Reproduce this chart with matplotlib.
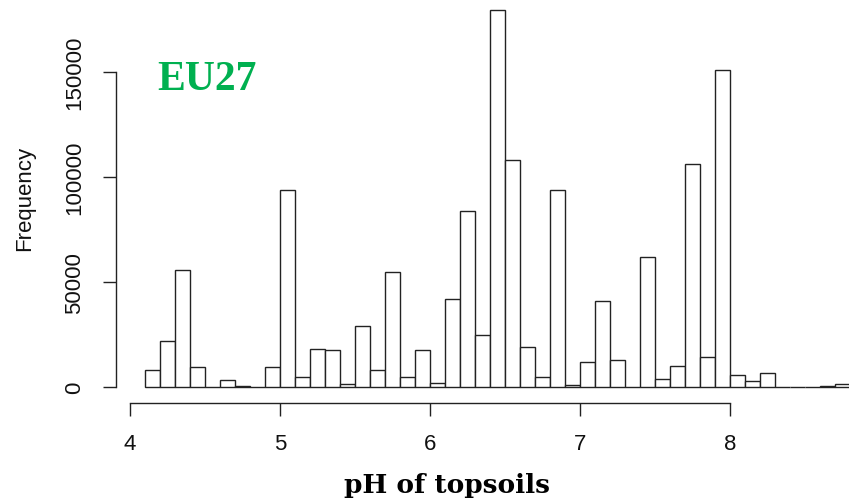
import matplotlib
matplotlib.use('Agg')
from matplotlib import pyplot as plt

# histogram of topsoil pH, bins of 0.1 starting at 4.1
bin_left = [4.1, 4.2, 4.3, 4.4, 4.5, 4.6, 4.7, 4.8, 4.9,
            5.0, 5.1, 5.2, 5.3, 5.4, 5.5, 5.6, 5.7, 5.8, 5.9,
            6.0, 6.1, 6.2, 6.3, 6.4, 6.5, 6.6, 6.7, 6.8, 6.9,
            7.0, 7.1, 7.2, 7.3, 7.4, 7.5, 7.6, 7.7, 7.8, 7.9,
            8.0, 8.1, 8.2, 8.3, 8.4, 8.5, 8.6, 8.7]
counts = [8100, 21750, 55900, 9400, 0, 3300, 500, 0, 9400,
          93800, 4600, 18250, 17600, 1400, 28900, 8100, 54600, 4600, 17600,
          2000, 41750, 83800, 24900, 179700, 107900, 18900, 4600, 93800, 1100,
          12100, 41100, 12900, 0, 62100, 4000, 10000, 106000, 14100, 151100,
          5900, 2700, 6800, 0, 0, 0, 400, 1400]
x_ticks = [4, 5, 6, 7, 8]
y_ticks = [0, 50000, 100000, 150000]

W, H = 849, 502
fig = plt.figure(figsize=(W / 100, H / 100), dpi=100)
ax = fig.add_axes([116 / W, (H - 404) / H, 1 - 116 / W, 404 / H])

ax.bar(bin_left, counts, width=0.1, align='edge', color='white',
       edgecolor='#222222', linewidth=1.0)

ax.set_xlim(4 - 14 / 150, 4 + (849 - 130) / 150)
ax.set_ylim(-16 * 476.19, 388 * 476.19)

for s in ['top', 'right']:
    ax.spines[s].set_visible(False)
ax.spines['left'].set_bounds(0, 150000)
ax.spines['bottom'].set_bounds(4, 8)
for s in ['left', 'bottom']:
    ax.spines[s].set_linewidth(1.0)
    ax.spines[s].set_color('#222222')

ax.set_xticks(x_ticks)
ax.set_xticklabels([str(v) for v in x_ticks])
ax.set_yticks(y_ticks)
ax.set_yticklabels([str(v) for v in y_ticks])
ax.tick_params(axis='both', length=9.4, width=1.0, color='#222222',
               labelsize=16, labelcolor='#111111')
ax.tick_params(axis='x', pad=12)
ax.tick_params(axis='y', pad=13, labelrotation=90)
for lbl in ax.get_yticklabels():
    lbl.set_va('center')
for lbl in ax.get_xticklabels() + ax.get_yticklabels():
    lbl.set_family('Liberation Sans')

fig.text(25 / W, 1 - 198 / H, 'Frequency', rotation=90, ha='center',
         va='center', fontsize=16, family='Liberation Sans', color='#111111')
fig.text(447 / W, (H - 493) / H, 'pH of topsoils', ha='center',
         va='baseline', fontsize=19, fontweight='bold', family='DejaVu Serif')
fig.text(157 / W, (H - 90) / H, 'EU27', ha='left', va='baseline',
         fontsize=30, fontweight='bold', family='Liberation Serif',
         color='#00B050')

fig.savefig('out.png', dpi=100)
